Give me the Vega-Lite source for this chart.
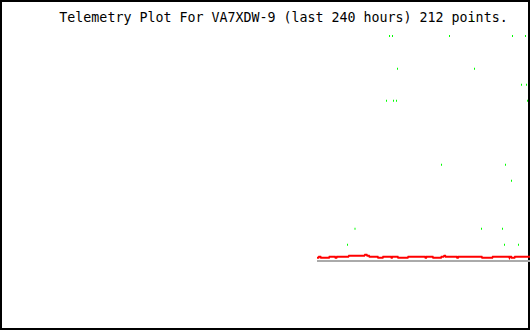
{
  "$schema": "https://vega.github.io/schema/vega-lite/v6.json",
  "width": 530,
  "height": 330,
  "autosize": {"type": "none"},
  "padding": 0,
  "background": "white",
  "config": {"view": {"stroke": "black", "strokeWidth": 4, "fill": "white"}},
  "datasets": {
    "baseline": [{"t": 317, "v": 69}, {"t": 530, "v": 69}],
    "telemetry": [
      {"t": 317, "v": 72.3}, {"t": 318.5, "v": 72.3}, {"t": 319, "v": 73.3}, {"t": 320.5, "v": 73.3},
      {"t": 321, "v": 72.3}, {"t": 329, "v": 72.3}, {"t": 329.5, "v": 73.3}, {"t": 335, "v": 73.3},
      {"t": 335.5, "v": 72.3}, {"t": 336.5, "v": 72.3}, {"t": 337, "v": 73.3}, {"t": 348.3, "v": 73.3},
      {"t": 349, "v": 74.3}, {"t": 364.3, "v": 74.3}, {"t": 365, "v": 75.3}, {"t": 366.7, "v": 75.3},
      {"t": 367.3, "v": 74.3}, {"t": 369, "v": 74.3}, {"t": 369.5, "v": 73.3}, {"t": 377.7, "v": 73.3},
      {"t": 378.2, "v": 72.3}, {"t": 382.7, "v": 72.3}, {"t": 383.2, "v": 73.3}, {"t": 391, "v": 73.3},
      {"t": 391.5, "v": 72.3}, {"t": 392, "v": 72.3}, {"t": 392.5, "v": 73.3}, {"t": 397.7, "v": 73.3},
      {"t": 398.2, "v": 72.3}, {"t": 407.7, "v": 72.3}, {"t": 408.3, "v": 73.3}, {"t": 425, "v": 73.3},
      {"t": 425.5, "v": 72.3}, {"t": 426.2, "v": 72.3}, {"t": 426.7, "v": 73.3}, {"t": 432.7, "v": 73.3},
      {"t": 433.2, "v": 72.3}, {"t": 441, "v": 72.3}, {"t": 441.5, "v": 73.3}, {"t": 443.5, "v": 73.3},
      {"t": 444.3, "v": 74.3}, {"t": 445.2, "v": 74.3}, {"t": 445.7, "v": 73.3}, {"t": 456.7, "v": 73.3},
      {"t": 457.2, "v": 72.3}, {"t": 458, "v": 72.3}, {"t": 458.5, "v": 73.3}, {"t": 481.7, "v": 73.3},
      {"t": 482.2, "v": 72.3}, {"t": 492.3, "v": 72.3}, {"t": 492.8, "v": 73.3}, {"t": 509, "v": 73.3},
      {"t": 509.5, "v": 72.3}, {"t": 510, "v": 73.3}, {"t": 511.2, "v": 73.3}, {"t": 511.7, "v": 72.3},
      {"t": 514.5, "v": 72.3}, {"t": 515, "v": 73.3}, {"t": 530, "v": 73.3}
    ],
    "hits": [
      {"t": 389.5, "v": 294, "s": 1}, {"t": 392.5, "v": 294, "s": 1}, {"t": 449.5, "v": 294, "s": 1},
      {"t": 512.5, "v": 294, "s": 1}, {"t": 525.5, "v": 294, "s": 1},
      {"t": 397.5, "v": 261.3, "s": 1}, {"t": 474.5, "v": 261.3, "s": 1},
      {"t": 521.5, "v": 245.3, "s": 1}, {"t": 526.5, "v": 245.3, "s": 1},
      {"t": 386.5, "v": 229.3, "s": 1}, {"t": 393.5, "v": 229.3, "s": 1}, {"t": 396.5, "v": 229.3, "s": 1},
      {"t": 527.5, "v": 229.3, "s": 1},
      {"t": 472.5, "v": 309.3, "s": 1},
      {"t": 441.5, "v": 165.3, "s": 1}, {"t": 505.5, "v": 165.3, "s": 1},
      {"t": 511.5, "v": 149.3, "s": 1},
      {"t": 355, "v": 101.3, "s": 2}, {"t": 481.5, "v": 101.3, "s": 1}, {"t": 502.5, "v": 101.3, "s": 1},
      {"t": 347.5, "v": 85.3, "s": 1}, {"t": 504.5, "v": 85.3, "s": 1}, {"t": 518.5, "v": 85.3, "s": 1}
    ],
    "label": [{"t": 283.5, "v": 308, "text": "Telemetry Plot For VA7XDW-9 (last 240 hours) 212 points."}]
  },
  "layer": [
    {
      "data": {"name": "baseline"},
      "mark": {"type": "line", "color": "#aaaaaa", "strokeWidth": 2},
      "encoding": {
        "x": {"field": "t", "type": "quantitative", "scale": {"domain": [0, 530], "nice": false, "zero": false}, "axis": null},
        "y": {"field": "v", "type": "quantitative", "scale": {"domain": [0, 330], "nice": false, "zero": false}, "axis": null}
      }
    },
    {
      "data": {"name": "telemetry"},
      "mark": {"type": "line", "color": "#ff0000", "strokeWidth": 2},
      "encoding": {
        "x": {"field": "t", "type": "quantitative", "scale": {"domain": [0, 530], "nice": false, "zero": false}, "axis": null},
        "y": {"field": "v", "type": "quantitative", "scale": {"domain": [0, 330], "nice": false, "zero": false}, "axis": null}
      }
    },
    {
      "data": {"name": "hits"},
      "mark": {"type": "tick", "orient": "vertical", "color": "#00ff00", "size": 2, "opacity": 1},
      "encoding": {
        "x": {"field": "t", "type": "quantitative", "scale": {"domain": [0, 530], "nice": false, "zero": false}, "axis": null},
        "y": {"field": "v", "type": "quantitative", "scale": {"domain": [0, 330], "nice": false, "zero": false}, "axis": null},
        "strokeWidth": {"field": "s", "type": "quantitative", "scale": null, "legend": null}
      }
    },
    {
      "data": {"name": "label"},
      "mark": {"type": "text", "font": "DejaVu Sans Mono", "fontSize": 13.3, "color": "black", "align": "center", "baseline": "alphabetic"},
      "encoding": {
        "x": {"field": "t", "type": "quantitative", "scale": {"domain": [0, 530], "nice": false, "zero": false}, "axis": null},
        "y": {"field": "v", "type": "quantitative", "scale": {"domain": [0, 330], "nice": false, "zero": false}, "axis": null},
        "text": {"field": "text"}
      }
    }
  ]
}
